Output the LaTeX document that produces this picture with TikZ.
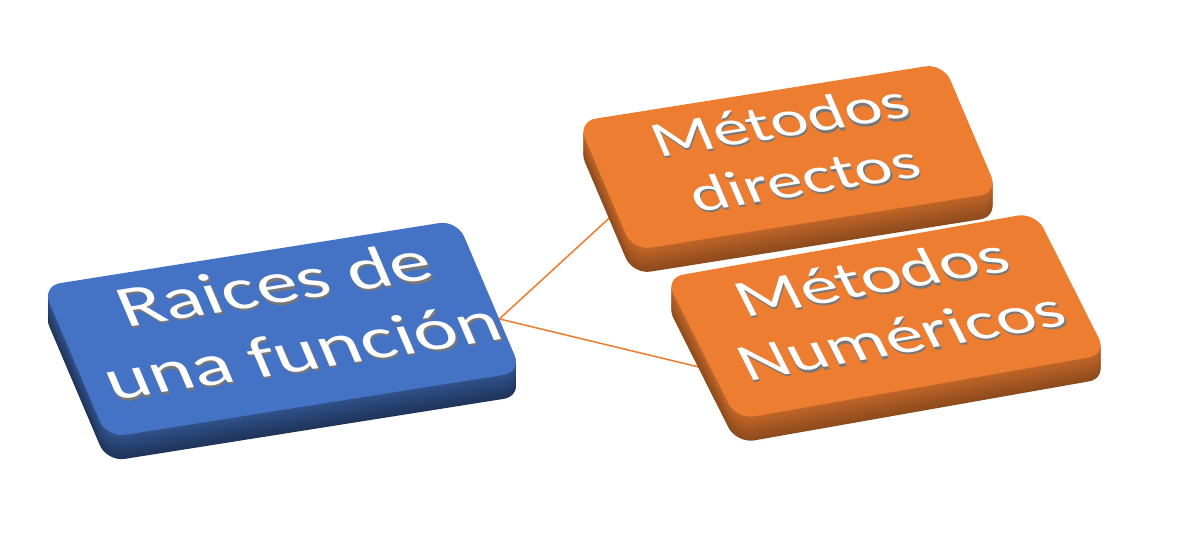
\documentclass[tikz,border=0pt]{standalone}
\usepackage{fontspec}
\newfontfamily\slabfont[FakeStretch=1.4]{Carlito}
\usetikzlibrary{positioning, calc, backgrounds}

\definecolor{blueface}{RGB}{68,114,196}
\definecolor{orangeface}{RGB}{237,125,49}
\definecolor{shadowgray}{RGB}{120,120,120}

\newcommand{\rootfont}{\slabfont\fontsize{42}{50}\selectfont}
\newcommand{\leaffont}{\slabfont\fontsize{36}{43}\selectfont}
\newcommand{\numfont}{\slabfont\fontsize{38}{45}\selectfont}

\tikzset{
    slab/.style n args={4}{rectangle, rounded corners=0.45cm, inner sep=0pt,
        minimum width=#1, minimum height=#2, rotate=#3, xslant=#4, transform shape},
    slabtext/.style 2 args={align=center, inner sep=0pt, rotate=#1, xslant=#2, transform shape},
    link/.style={draw=orangeface, line width=1.1pt}
}

\begin{document}
\begin{tikzpicture}
    \useasboundingbox (0,0) rectangle (29.5,13.375);

    % Centres of the three boxes
    \coordinate (rootc) at (7.05,5.15);
    \coordinate (directc) at (19.7,9.45);
    \coordinate (numc) at (22.15,5.475);

    % Raices de una funcion (blue slab)
    \foreach \d [evaluate=\d as \tone using int(72-1.3*\d)] in {20,19,...,1}
        \node[slab={10.5cm}{4cm}{9}{-0.25}, fill=blueface!\tone!black] (rootside\d) at ([yshift=-\d*0.03cm]rootc) {};
    \node[slab={10.5cm}{4cm}{9}{-0.25}, fill=blueface] (raices) at (rootc) {};
    \node[slabtext={9}{-0.25}, font=\rootfont, text=shadowgray] (raices-shadow) at ([shift={(0.18,0.24)}]raices.center) {Raices de\\una función};
    \node[slabtext={9}{-0.25}, font=\rootfont, text=white] (raices-text) at ([shift={(0.15,0.3)}]raices.center) {Raices de\\una función};

    % Metodos directos (upper orange slab)
    \foreach \d [evaluate=\d as \tone using int(82-1.1*\d)] in {20,19,...,1}
        \node[slab={9.25cm}{3.4cm}{9}{-0.25}, fill=orangeface!\tone!black] (directside\d) at ([yshift=-\d*0.03cm]directc) {};
    \node[slab={9.25cm}{3.4cm}{9}{-0.25}, fill=orangeface] (directos) at (directc) {};
    \node[slabtext={9}{-0.25}, font=\leaffont, text=shadowgray] (directos-shadow) at ([shift={(0.13,0.14)}]directos.center) {Métodos\\directos};
    \node[slabtext={9}{-0.25}, font=\leaffont, text=white] (directos-text) at ([shift={(0.1,0.2)}]directos.center) {Métodos\\directos};

    % Metodos Numericos (lower orange slab)
    \foreach \d [evaluate=\d as \tone using int(82-1.1*\d)] in {20,19,...,1}
        \node[slab={9.4cm}{3.8cm}{10}{-0.3}, fill=orangeface!\tone!black] (numside\d) at ([yshift=-\d*0.03cm]numc) {};
    \node[slab={9.4cm}{3.8cm}{10}{-0.3}, fill=orangeface] (numericos) at (numc) {};
    \node[slabtext={10}{-0.3}, font=\numfont, text=shadowgray] (numericos-shadow) at ([shift={(0.03,0.19)}]numericos.center) {Métodos\\Numéricos};
    \node[slabtext={10}{-0.3}, font=\numfont, text=white] (numericos-text) at ([shift={(0,0.25)}]numericos.center) {Métodos\\Numéricos};

    % Connectors behind the slabs
    \begin{scope}[on background layer]
        \coordinate (hub) at ($(raices.east)!0.3!(raices.south east)$);
        \draw[link] (hub) -- ($(directos.north west)!0.7!(directos.south west)$);
        \draw[link] (hub) -- ($(numericos.north west)!0.65!(numericos.south west)$);
    \end{scope}
\end{tikzpicture}
\end{document}
